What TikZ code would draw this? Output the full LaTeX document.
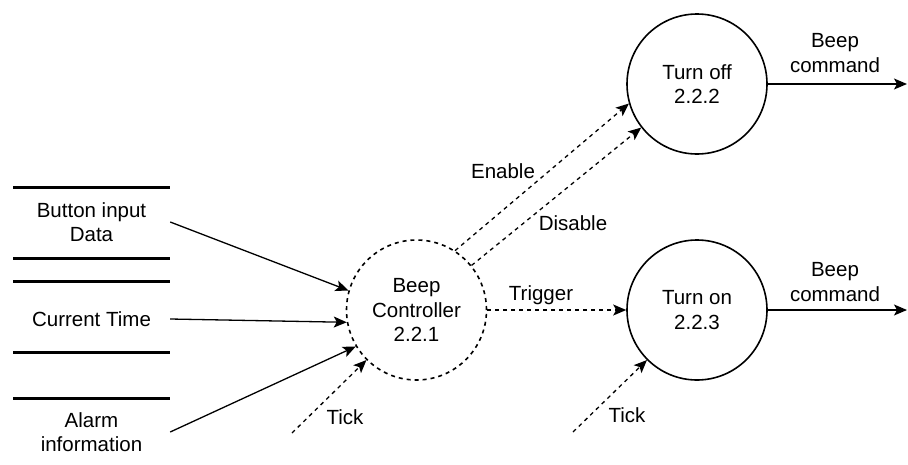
\documentclass[tikz,border=0pt]{standalone}
\usepackage{fontspec}
\setmainfont{Liberation Sans}
\usetikzlibrary{arrows.meta}

\begin{document}
\begin{tikzpicture}[x=1pt,y=-1pt,
	every node/.style={font=\fontsize{20.5}{24.5}\selectfont, align=center},
	proc/.style={circle, draw, line width=1.6pt, minimum size=140pt, inner sep=0pt},
	store/.style={minimum width=157pt, inner sep=0pt},
	flow/.style={-{Stealth[length=13pt,width=11pt,inset=3pt]}, line width=1.3pt},
	sig/.style={flow, dash pattern=on 4pt off 4pt}]
	\useasboundingbox (0,0) rectangle (908,464);
	% data stores
	\foreach \y in {187,258,281,352,398}
		\draw[line width=3pt] (13,\y) -- (170,\y);
	\node[store] (btn) at (91.5,222) {Button input\\Data};
	\node[store] (time) at (91.5,319) {Current Time};
	\node[store] (alarm) at (91.5,432) {Alarm\\information};
	% processes
	\node[proc, dash pattern=on 4pt off 4pt] (ctrl) at (416.5,310) {Beep\\Controller\\2.2.1};
	\node[proc] (off) at (697,84) {Turn off\\2.2.2};
	\node[proc] (on) at (697,310) {Turn on\\2.2.3};
	\coordinate (tick1) at (292,433);
	\coordinate (tick2) at (573,432);
	\coordinate (out1) at (907,84);
	\coordinate (out2) at (907,310);
	% flows
	\draw[flow] (btn.east) -- (ctrl.164);
	\draw[flow] (time.east) -- (ctrl.190);
	\draw[flow] (alarm.east) -- (ctrl.211);
	\draw[sig] (tick1) -- (ctrl.225);
	\draw[sig] (ctrl.57) -- (off.196);
	\draw[sig] (ctrl.39) -- (off.218);
	\draw[sig] (ctrl.east) -- (on.west);
	\draw[sig] (tick2) -- (on.225);
	\draw[flow] (off.east) -- (out1);
	\draw[flow] (on.east) -- (out2);
	% labels
	\node (enable) at (503,171) {Enable};
	\node (disable) at (573,223) {Disable};
	\node (trigger) at (541,295) {Trigger};
	\node (ticklbl1) at (345,417) {Tick};
	\node (ticklbl2) at (627,415) {Tick};
	\node (cmd1) at (835,53) {Beep\\command};
	\node (cmd2) at (835,282) {Beep\\command};
\end{tikzpicture}
\end{document}
